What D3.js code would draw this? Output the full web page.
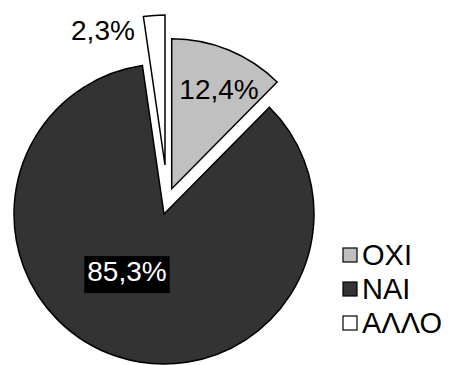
<!DOCTYPE html>
<html><head><meta charset="utf-8">
<script src="https://cdn.jsdelivr.net/npm/d3@7"></script>
<style>html,body{margin:0;padding:0;background:#fff}svg{display:block}</style>
</head><body>
<script>
const categories = ["ΟΧΙ", "ΝΑΙ", "ΑΛΛΟ"];
const values = [12.4, 85.3, 2.3];
const valueLabels = ["12,4%", "85,3%", "2,3%"];

const W = 457, H = 365;
const font = "'Liberation Sans', Arial, sans-serif";
const style = {
  center: [164, 214], radius: 150,
  colors: ["#c0c0c0", "#333333", "#ffffff"],
  explode: [[7.7, -25.3], [0, 0], [1, -49]],
  labelPolar: [[0.736, 25.4], [0.453, 213], [0.99, 335.3]],
  labelFill: ["#000", "#fff", "#000"],
  labelBox: [null, "#000", null],
  labelSize: 28,
  legend: {x: 343, y0: 255, dy: 34, box: 14, gap: 5, size: 29}
};

const svg = d3.select("body").append("svg").attr("width", W).attr("height", H);
svg.append("rect").attr("width", W).attr("height", H).attr("fill", "#fff");

const pie = d3.pie().sort(null).value(d => d)(values);
const arc = d3.arc().innerRadius(0).outerRadius(style.radius);
const color = d3.scaleOrdinal().domain(categories).range(style.colors);

const g = svg.append("g").attr("transform", `translate(${style.center[0]},${style.center[1]})`);
const slices = g.selectAll("g.slice").data(pie).join("g")
  .attr("class", "slice")
  .attr("transform", (d, i) => `translate(${style.explode[i][0]},${style.explode[i][1]})`);
slices.append("path").attr("d", arc)
  .attr("fill", (d, i) => color(categories[i]))
  .attr("stroke", "#000").attr("stroke-width", 1.5).attr("stroke-linejoin", "miter");

slices.each(function(d, i) {
  const s = d3.select(this);
  const [f, a] = style.labelPolar[i];
  const rad = a * Math.PI / 180;
  const x = Math.sin(rad) * f * style.radius, y = -Math.cos(rad) * f * style.radius;
  const t = s.append("text").attr("x", x).attr("y", y).attr("dy", "0.36em")
    .attr("text-anchor", "middle").attr("font-family", font).attr("font-size", style.labelSize)
    .attr("fill", style.labelFill[i]).text(valueLabels[i]);
  if (style.labelBox[i]) {
    const bb = t.node().getBBox();
    s.insert("rect", "text").attr("x", bb.x - 3).attr("y", bb.y + 0).attr("width", bb.width + 6).attr("height", bb.height + 6)
      .attr("fill", style.labelBox[i]);
  }
});

const L = style.legend;
const lg = svg.append("g");
categories.forEach((c, i) => {
  const cy = L.y0 + i * L.dy;
  lg.append("rect").attr("x", L.x).attr("y", cy - L.box / 2).attr("width", L.box).attr("height", L.box)
    .attr("fill", color(c)).attr("stroke", "#000").attr("stroke-width", 1.2);
  lg.append("text").attr("x", L.x + L.box + L.gap).attr("y", cy).attr("dy", "0.36em")
    .attr("font-family", font).attr("font-size", L.size).attr("fill", "#000").text(c);
});
</script>
</body></html>
